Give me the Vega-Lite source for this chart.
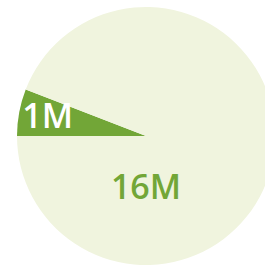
{
  "$schema": "https://vega.github.io/schema/vega-lite/v6.json",
  "width": 292,
  "height": 272,
  "padding": 0,
  "autosize": "none",
  "background": "white",
  "view": {"stroke": null},
  "data": {"values": [
    {"label": "1M", "value": 1, "order": 1},
    {"label": "16M", "value": 16, "order": 2}
  ]},
  "layer": [
    {
      "mark": {"type": "arc", "outerRadius": 129},
      "encoding": {
        "theta": {"field": "value", "type": "quantitative", "stack": true, "scale": {"range": [4.712389, 10.995574]}},
        "order": {"field": "order", "type": "quantitative"},
        "color": {"field": "label", "type": "nominal", "legend": null, "scale": {"domain": ["1M", "16M"], "range": ["#72A637", "#F0F4DE"]}}
      }
    },
    {
      "transform": [{"filter": "datum.label == '1M'"}],
      "mark": {"type": "text", "theta": 4.897, "radius": 100, "font": "Open Sans", "fontSize": 34, "fontWeight": 600, "color": "white", "baseline": "middle", "align": "center"},
      "encoding": {"text": {"field": "label"}}
    },
    {
      "transform": [{"filter": "datum.label == '16M'"}],
      "mark": {"type": "text", "theta": 3.1416, "radius": 53, "font": "Open Sans", "fontSize": 34, "fontWeight": 600, "color": "#72A637", "baseline": "middle", "align": "center"},
      "encoding": {"text": {"field": "label"}}
    }
  ]
}
